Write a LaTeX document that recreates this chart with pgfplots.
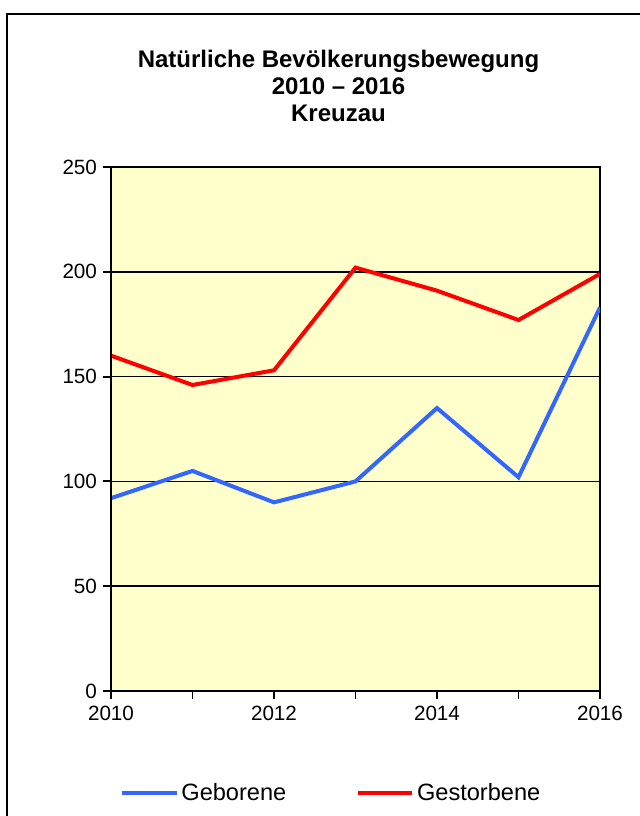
\documentclass[border=0pt]{standalone}
\usepackage{pgfplots}
\pgfplotsset{compat=1.18}
\usepackage{fontspec}
\setmainfont{Liberation Sans}
\definecolor{bgy}{RGB}{255,255,204}
\definecolor{gblue}{RGB}{51,102,255}
\definecolor{gred}{RGB}{255,0,0}
\begin{document}
\begin{tikzpicture}
\begin{scope}[x=0.75pt,y=-0.75pt]
\useasboundingbox (0,0) rectangle (639,816);
\draw[line width=1.5pt] (7,820) -- (7,14) -- (645,14);
\node[font=\bfseries\fontsize{18}{20}\selectfont, align=center] at (338.5,86) {Natürliche Bevölkerungsbewegung\\2010 – 2016\\Kreuzau};
\end{scope}
\begin{axis}[
  at={(83.25pt,-518.25pt)}, anchor=south west,
  scale only axis, width=366.75pt, height=393pt,
  xmin=2010, xmax=2016, ymin=0, ymax=250,
  axis background/.style={fill=bgy},
  axis line style={black, line width=1pt},
  ytick={0,50,...,250},
  xtick={2010,2012,2014,2016},
  minor xtick={2011,2013,2015},
  xtick pos=bottom, ytick pos=left,
  tick align=outside,
  major tick length=6pt, minor tick length=6pt,
  tick style={black, line width=1.4pt},
  ymajorgrids, grid style={black, line width=1.2pt},
  tick label style={font=\fontsize{15.5}{18}\selectfont},
  /pgf/number format/assume math mode=true,
  xticklabel style={/pgf/number format/1000 sep={}, yshift=-2pt},
  yticklabel style={xshift=-1pt},
  legend columns=2,
  legend style={at={(0.451,-0.195)}, anchor=center, draw=none, fill=none,
    font=\fontsize{17.7}{20}\selectfont,
    nodes={inner xsep=2pt},
    /tikz/every even column/.append style={column sep=50pt}},
  legend image code/.code={\draw[#1, line width=3pt] (0pt,0pt) -- (41pt,0pt);},
]
\addplot[gblue, line width=3pt] coordinates {(2010,92) (2011,105) (2012,90) (2013,100) (2014,135) (2015,102) (2016,183)};
\addlegendentry{Geborene}
\addplot[gred, line width=3pt] coordinates {(2010,160) (2011,146) (2012,153) (2013,202) (2014,191) (2015,177) (2016,199)};
\addlegendentry{Gestorbene}
\draw[black, line width=2.2pt] (axis cs:2010,250) -- (axis cs:2010,0) -- (axis cs:2016,0);
\end{axis}
\end{tikzpicture}
\end{document}
